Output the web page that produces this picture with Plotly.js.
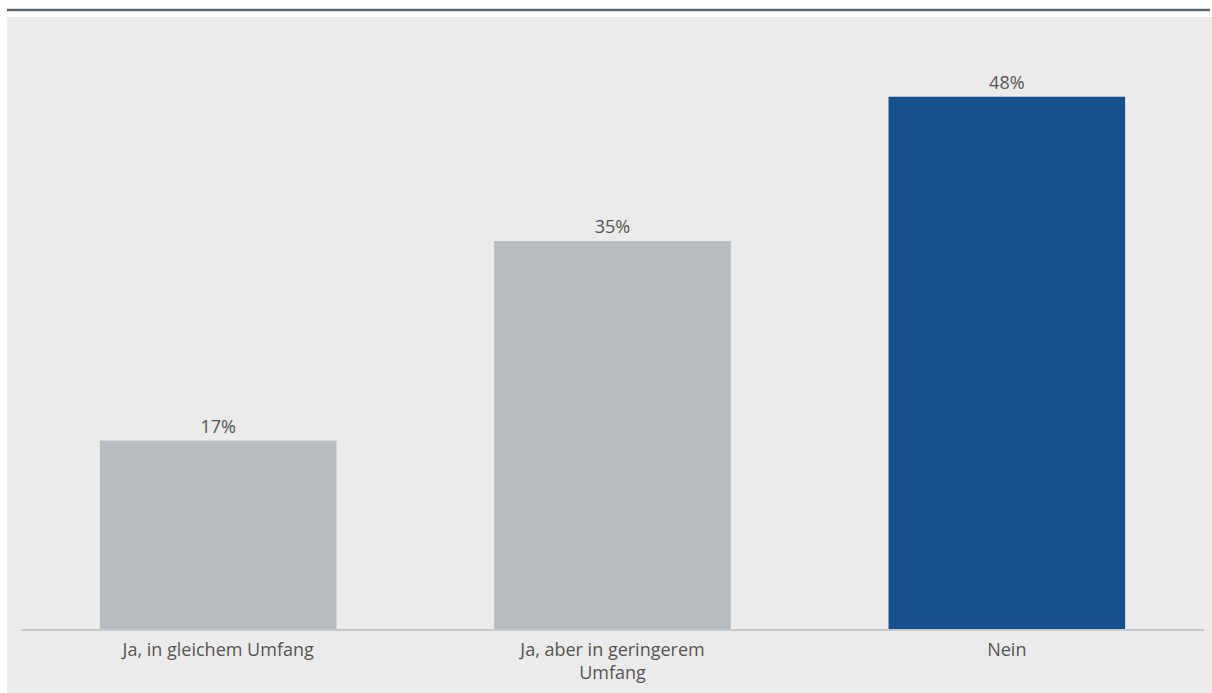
<!DOCTYPE html>
<html>
<head>
<meta charset="utf-8">
<script src="https://cdn.plot.ly/plotly-3.0.1.min.js"></script>
<style>html,body{margin:0;padding:0;background:#fff;}#chart{width:1212px;height:693px;}</style>
</head>
<body>
<div id="chart"></div>
<script>
const categories = ["Ja, in gleichem Umfang", "Ja, aber in geringerem<br>Umfang", "Nein"];
const values = [17, 35, 48];
const labels = ["17%", "35%", "48%"];
const barColors = ["#b7bcbf", "#b7bcbf", "#15508d"];

const W = 1212, H = 693;
const L = 21, R = 8, T = 17, B = 64;
const pw = W - L - R, ph = H - T - B;
const px = x => (x - L) / pw;
const py = y => (H - B - y) / ph;
const FONT = '"Open Sans", "Liberation Sans", Arial, sans-serif';

const trace = {
  type: 'bar',
  x: categories,
  y: values,
  text: labels,
  textposition: 'outside',
  cliponaxis: false,
  textfont: {family: FONT, size: 18, color: '#555555'},
  marker: {color: barColors},
  hoverinfo: 'none'
};

const layout = {
  width: W, height: H,
  margin: {l: L, r: R, t: T, b: B, pad: 0},
  paper_bgcolor: '#ffffff',
  plot_bgcolor: 'rgba(0,0,0,0)',
  bargap: 0.4,
  showlegend: false,
  font: {family: FONT, color: '#555555', size: 18},
  xaxis: {
    showline: true, linecolor: '#c6c8ca', linewidth: 2,
    ticks: '', showgrid: false, zeroline: false,
    tickfont: {family: FONT, size: 18, color: '#555555'},
    ticklabelstandoff: 3,
    fixedrange: true
  },
  yaxis: {
    range: [0, 55.2], visible: false, showgrid: false, zeroline: false, fixedrange: true
  },
  shapes: [
    {type: 'rect', xref: 'paper', yref: 'paper', x0: px(7), x1: px(1212), y0: py(693), y1: py(17),
     fillcolor: '#ebebeb', line: {width: 0}, layer: 'below'},
    {type: 'line', xref: 'paper', yref: 'paper', x0: px(7), x1: px(1210), y0: py(10), y1: py(10),
     line: {color: '#5f6770', width: 2.5}, layer: 'below'}
  ]
};

Plotly.newPlot('chart', [trace], layout, {displayModeBar: false, staticPlot: true});
</script>
</body>
</html>
